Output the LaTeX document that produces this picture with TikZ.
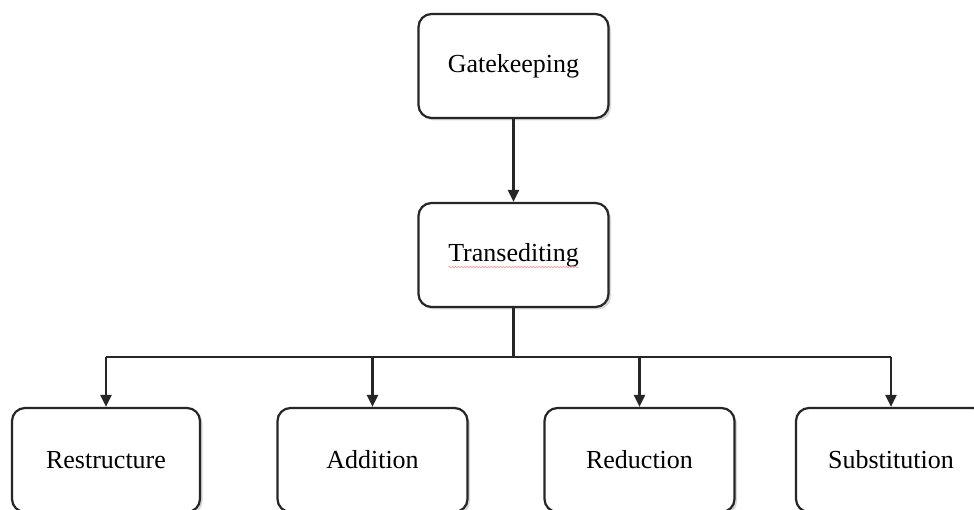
\documentclass[tikz,border=0pt]{standalone}
\usepackage{fontspec}
\setmainfont{Liberation Serif}
\usetikzlibrary{arrows.meta,shadows,decorations.pathmorphing}
\begin{document}
\begin{tikzpicture}[x=1pt,y=-1pt,
  box/.style={draw=black!85, line width=2.2pt, rounded corners=13pt, fill=white,
    minimum width=190pt, minimum height=104pt, inner sep=0pt,
    font=\fontsize{26}{30}\selectfont,
    drop shadow={shadow xshift=2.5pt, shadow yshift=-2.5pt, opacity=0.25, fill=black!60}},
  conn/.style={draw=black!85, line width=2.2pt},
  arr/.style={conn, -{Triangle[length=12pt,width=11pt]}}]
\fill[white] (0,0) rectangle (974,510);
\clip (0,0) rectangle (974,510);
\node[box] (gate) at (513.5,66) {Gatekeeping};
\node[box] (trans) at (513.5,255) {Transediting};
\node[box, minimum width=188pt] (restr) at (106,460) {Restructure};
\node[box] (add) at (372.5,460) {Addition};
\node[box] (red) at (639.5,460) {Reduction};
\node[box] (subst) at (891,460) {Substitution};
\coordinate (bus) at (513.5,357);
\draw[arr] (gate) -- (trans);
\draw[conn] (trans.south) -- (bus);
\draw[conn] (restr.north |- bus) -- (subst.north |- bus);
\draw[arr] (restr.north |- bus) -- (restr.north);
\draw[arr] (add.north |- bus) -- (add.north);
\draw[arr] (red.north |- bus) -- (red.north);
\draw[arr] (subst.north |- bus) -- (subst.north);
\draw[red!45, line width=0.6pt, decorate, decoration={snake, amplitude=0.6pt, segment length=3pt}]
  ([xshift=-65pt,yshift=-12pt]trans.center) -- ([xshift=65pt,yshift=-12pt]trans.center);
\end{tikzpicture}
\end{document}
